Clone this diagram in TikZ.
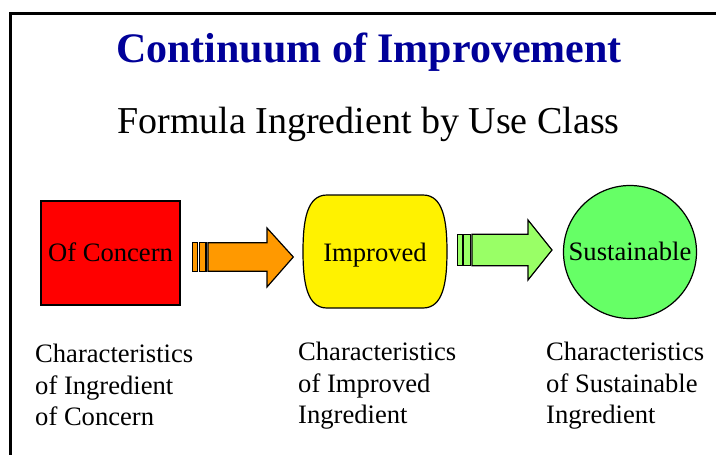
\documentclass[tikz,border=0pt]{standalone}
\usepackage{fontspec}
\setmainfont{Liberation Serif}
\definecolor{titleblue}{RGB}{0,0,153}
\definecolor{arroworange}{RGB}{255,153,0}
\definecolor{arrowgreen}{RGB}{153,255,102}
\definecolor{circlegreen}{RGB}{102,255,102}
\begin{document}
\begin{tikzpicture}[x=1pt,y=-1pt,
  shapeline/.style={draw=black, line width=1.2pt, line join=miter},
  body/.style={font=\fontsize{26.6}{31.5}\selectfont, inner sep=0},
  capsbox/.style={text height=17.6pt, text depth=0pt},
  caption/.style={body, anchor=base west},
  frameline/.style={line width=3.3pt, line join=miter}]
\useasboundingbox (0,0) rectangle (716,455);
% frame (cut off at right and bottom)
\draw[frameline] (716,13.5) -- (10.3,13.5) -- (10.3,455);
% titles
\node[anchor=base, inner sep=0, font=\fontsize{42}{50}\selectfont\bfseries, text=titleblue] (title) at (369,62) {Continuum of Improvement};
\node[anchor=base, inner sep=0, font=\fontsize{38}{45}\selectfont] (subtitle) at (368.5,133) {Formula Ingredient by Use Class};
% Of Concern
\node[shapeline, fill=red, minimum width=139pt, minimum height=104pt, body, capsbox] (concern) at (110.5,253) {Of Concern};
% orange striped arrow
\path[shapeline, fill=arroworange] (192.7,242.7) rectangle (197.7,271.3);
\path[shapeline, fill=arroworange] (199.3,242.7) rectangle (206,271.3);
\path[shapeline, fill=arroworange] (208,242.7) -- (267,242.7) -- (267,228) -- (293.3,257) -- (267,287) -- (267,271.3) -- (208,271.3) -- cycle;
% Improved
\path[shapeline, fill=yellow] (327,195) -- (423,195)
  .. controls (443,195) and (447,220) .. (447,251.5)
  .. controls (447,283) and (443,308) .. (423,308)
  -- (327,308)
  .. controls (307,308) and (303,283) .. (303,251.5)
  .. controls (303,220) and (307,195) .. (327,195) -- cycle;
\node[body, anchor=base] (improved) at (375,261.7) {Improved};
% green striped arrow
\path[shapeline, fill=arrowgreen] (457.3,234.3) rectangle (462.3,265.7);
\path[shapeline, fill=arrowgreen] (463.3,234.3) rectangle (470.7,265.7);
\path[shapeline, fill=arrowgreen] (472,234.3) -- (528,234.3) -- (528,220) -- (552,250) -- (528,280) -- (528,265.7) -- (472,265.7) -- cycle;
% Sustainable
\node[shapeline, circle, fill=circlegreen, minimum size=133pt, body, capsbox] (sustainable) at (630,252) {Sustainable};
% captions
\node[caption] (c1a) at (35,362) {Characteristics};
\node[caption] (c1b) at (35,394) {of Ingredient};
\node[caption] (c1c) at (35,425) {of Concern};
\node[caption] (c2a) at (298,360) {Characteristics};
\node[caption] (c2b) at (298,392) {of Improved};
\node[caption] (c2c) at (298,423) {Ingredient};
\node[caption] (c3a) at (546,360) {Characteristics};
\node[caption] (c3b) at (546,392) {of Sustainable};
\node[caption] (c3c) at (546,423) {Ingredient};
\end{tikzpicture}
\end{document}
